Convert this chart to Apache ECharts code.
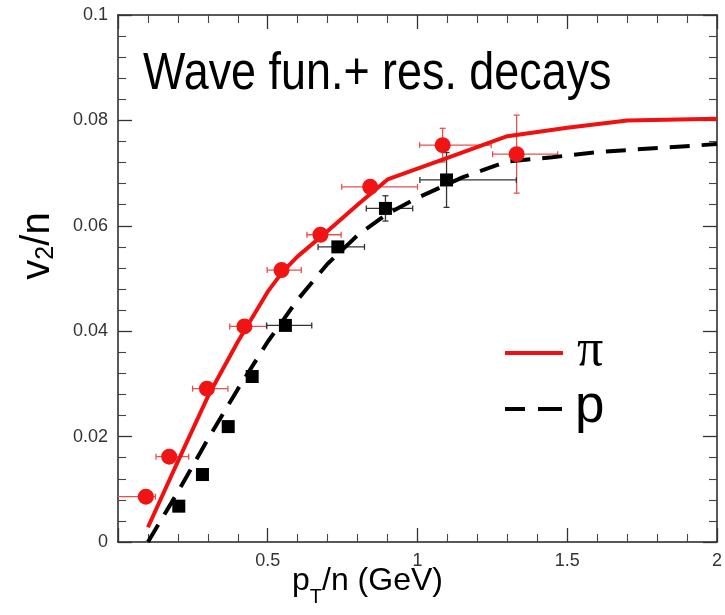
<!DOCTYPE html>
<html>
<head>
<meta charset="utf-8">
<script src="https://cdn.jsdelivr.net/npm/echarts@6/dist/echarts.min.js"></script>
<style>
  html, body { margin: 0; padding: 0; background: #fff; }
  #chart { width: 725px; height: 615px; }
</style>
</head>
<body>
<div id="chart"></div>
<script>
// Model curves: v2/n versus pT/n
const piCurveX = [0.1, 0.2, 0.3, 0.4, 0.5, 0.55, 0.6, 0.7, 0.8, 0.9, 1.1, 1.3, 1.5, 1.7, 2.0];
const piCurveY = [0.0028, 0.0153, 0.0276, 0.0380, 0.0475, 0.0513, 0.0542, 0.0590, 0.0640, 0.0688, 0.0729, 0.0770, 0.0786, 0.0800, 0.0803];
const pCurveX = [0.1, 0.2, 0.3, 0.4, 0.5, 0.6, 0.7, 0.8, 0.9, 1.0, 1.15, 1.3, 1.45, 1.6, 2.0];
const pCurveY = [0.0, 0.0095, 0.0195, 0.0290, 0.0380, 0.0460, 0.0528, 0.0582, 0.0623, 0.0653, 0.0692, 0.0722, 0.0730, 0.0740, 0.0755];

// Measured pion points with bin widths and vertical errors
const piX    = [0.093, 0.171, 0.297, 0.422, 0.546, 0.676, 0.842, 1.084, 1.331];
const piY    = [0.0086, 0.0162, 0.0291, 0.0409, 0.0516, 0.0583, 0.0674, 0.0753, 0.0736];
const piXLo  = [0.0, 0.127, 0.249, 0.373, 0.498, 0.631, 0.747, 1.007, 1.251];
const piXHi  = [0.125, 0.236, 0.367, 0.497, 0.612, 0.745, 1.0, 1.246, 1.468];
const piYErr = [0, 0, 0, 0, 0, 0, 0, 0.0032, 0.0074];

// Measured proton points
const pX    = [0.203, 0.282, 0.368, 0.448, 0.559, 0.734, 0.893, 1.097];
const pY    = [0.0068, 0.0128, 0.0219, 0.0314, 0.0411, 0.0560, 0.0633, 0.0687];
const pXLo  = [0.203, 0.282, 0.368, 0.448, 0.496, 0.668, 0.829, 1.008];
const pXHi  = [0.203, 0.282, 0.368, 0.448, 0.647, 0.823, 0.984, 1.330];
const pYErr = [0, 0, 0, 0, 0, 0, 0.0024, 0.0052];

const xTicks = [0, 0.5, 1, 1.5, 2];
const yTicks = [0, 0.02, 0.04, 0.06, 0.08, 0.1];

const FONT = '"Liberation Sans", Arial, Helvetica, sans-serif';

const zip = (xs, ys) => xs.map((x, i) => [x, ys[i]]);
const errRows = (xs, ys, lo, hi, ye) =>
  xs.map((x, i) => [x, ys[i], lo[i], hi[i], ys[i] - ye[i], ys[i] + ye[i]]);

function errorBars(color) {
  return function (params, api) {
    const x = api.value(0), y = api.value(1);
    const xlo = api.value(2), xhi = api.value(3);
    const ylo = api.value(4), yhi = api.value(5);
    const style = { stroke: color, lineWidth: 1.3 };
    const cap = 3;
    const kids = [];
    if (xhi > xlo) {
      const a = api.coord([xlo, y]), b = api.coord([xhi, y]);
      kids.push({ type: 'line', shape: { x1: a[0], y1: a[1], x2: b[0], y2: b[1] }, style });
      if (xlo > 0) kids.push({ type: 'line', shape: { x1: a[0], y1: a[1] - cap, x2: a[0], y2: a[1] + cap }, style });
      kids.push({ type: 'line', shape: { x1: b[0], y1: b[1] - cap, x2: b[0], y2: b[1] + cap }, style });
    }
    if (yhi > ylo) {
      const a = api.coord([x, ylo]), b = api.coord([x, yhi]);
      kids.push({ type: 'line', shape: { x1: a[0], y1: a[1], x2: b[0], y2: b[1] }, style });
      kids.push({ type: 'line', shape: { x1: a[0] - cap, y1: a[1], x2: a[0] + cap, y2: a[1] }, style });
      kids.push({ type: 'line', shape: { x1: b[0] - cap, y1: b[1], x2: b[0] + cap, y2: b[1] }, style });
    }
    return { type: 'group', children: kids };
  };
}

// Frame axes with inward major and minor ticks
function axis(isX, showLabels, position) {
  return {
    type: 'value',
    position: position,
    min: isX ? xTicks[0] : yTicks[0],
    max: isX ? xTicks[xTicks.length - 1] : yTicks[yTicks.length - 1],
    interval: isX ? 0.5 : 0.02,
    splitLine: { show: false },
    axisLine: { show: true, onZero: false, lineStyle: { color: '#222', width: 1.5 } },
    axisTick: { show: true, inside: true, length: 14, lineStyle: { color: '#333', width: 1.3 } },
    minorTick: { show: true, splitNumber: 5, length: 8, lineStyle: { color: '#444', width: 1.1 } },
    axisLabel: {
      show: showLabels, fontFamily: FONT, fontSize: 18, color: '#333', margin: 10,
      formatter: isX ? (v => (v === 0 ? '' : String(v))) : (v => String(v))
    }
  };
}

const chart = echarts.init(document.getElementById('chart'), null, { renderer: 'canvas' });

chart.setOption({
  animation: false,
  backgroundColor: '#fff',
  grid: { left: 118, right: 7, top: 15, bottom: 73 },
  xAxis: [axis(true, true, 'bottom'), axis(true, false, 'top')],
  yAxis: [axis(false, true, 'left'), axis(false, false, 'right')],
  series: [
    {
      name: 'pi-err', type: 'custom', z: 2,
      renderItem: errorBars('#e8504f'),
      data: errRows(piX, piY, piXLo, piXHi, piYErr),
      encode: { x: 0, y: 1 }
    },
    {
      name: 'p-err', type: 'custom', z: 2,
      renderItem: errorBars('#333'),
      data: errRows(pX, pY, pXLo, pXHi, pYErr),
      encode: { x: 0, y: 1 }
    },
    {
      name: 'π', type: 'line', z: 3, showSymbol: false, smooth: false,
      data: zip(piCurveX, piCurveY),
      lineStyle: { color: '#f01010', width: 4 }
    },
    {
      name: 'p', type: 'line', z: 3, showSymbol: false, smooth: false,
      data: zip(pCurveX, pCurveY),
      lineStyle: { color: '#000', width: 4, type: [20, 12], cap: 'butt' }
    },
    {
      name: 'π data', type: 'scatter', z: 4, symbol: 'circle', symbolSize: 16,
      data: zip(piX, piY),
      itemStyle: { color: '#f01414', opacity: 1 }
    },
    {
      name: 'p data', type: 'scatter', z: 4, symbol: 'rect', symbolSize: 13,
      data: zip(pX, pY),
      itemStyle: { color: '#000', opacity: 1 }
    }
  ],
  graphic: [
    {
      type: 'text', x: 143, y: 49, scaleX: 0.88, z: 10,
      style: { text: 'Wave fun.+ res. decays', font: '51px ' + FONT, fill: '#000', verticalAlign: 'top' }
    },
    // legend
    { type: 'line', z: 10, shape: { x1: 505, y1: 353, x2: 563, y2: 353 }, style: { stroke: '#f01010', lineWidth: 4 } },
    { type: 'line', z: 10, shape: { x1: 505, y1: 409, x2: 525, y2: 409 }, style: { stroke: '#000', lineWidth: 4 } },
    { type: 'line', z: 10, shape: { x1: 538, y1: 409, x2: 562, y2: 409 }, style: { stroke: '#000', lineWidth: 4 } },
    {
      type: 'text', left: 577, top: 325, z: 10,
      style: { text: 'π', font: '52px "Liberation Serif", "DejaVu Serif", serif', fill: '#000' }
    },
    {
      type: 'text', left: 575, top: 381, z: 10,
      style: { text: 'p', font: '53px ' + FONT, fill: '#000' }
    },
    // x-axis title
    {
      type: 'text', left: 292, top: 565, z: 10,
      style: {
        text: '{m|p}{s|T}{m|/n (GeV)}',
        rich: {
          m: { font: '32px ' + FONT, fill: '#000', verticalAlign: 'bottom' },
          s: { font: '20px ' + FONT, fill: '#000', verticalAlign: 'bottom', padding: [0, 0, -10, 0] }
        }
      }
    },
    // y-axis title
    {
      type: 'text', x: 38, y: 246, rotation: Math.PI / 2, z: 10,
      style: {
        text: '{m|v}{s|2}{m|/n}',
        align: 'center', verticalAlign: 'middle',
        rich: {
          m: { font: '40px ' + FONT, fill: '#000' },
          s: { font: '25px ' + FONT, fill: '#000', padding: [17, 0, 0, 0] }
        }
      }
    }
  ]
});
</script>
</body>
</html>
